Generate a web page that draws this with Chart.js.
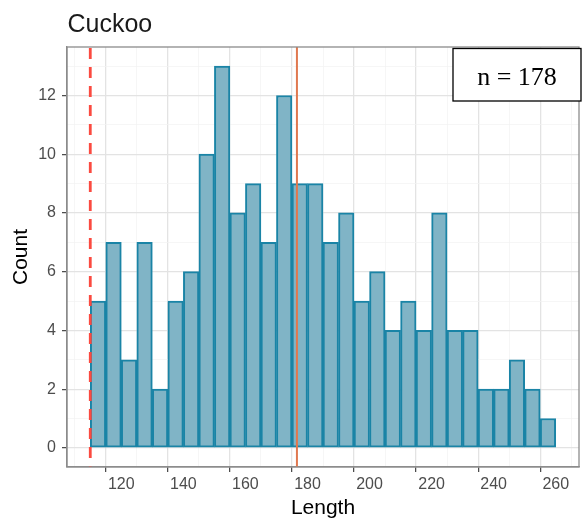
<!DOCTYPE html>
<html>
<head>
<meta charset="utf-8">
<script src="https://cdn.jsdelivr.net/npm/chart.js@4.4.1/dist/chart.umd.min.js"></script>
<style>
  html, body { margin: 0; padding: 0; background: #ffffff; }
  #wrap { width: 582px; height: 525px; }
</style>
</head>
<body>
<div id="wrap"><canvas id="c" width="582" height="525"></canvas></div>
<script>
// ---- data ----
const chartTitle = "Cuckoo";
const xTitle = "Length";
const yTitle = "Count";
const nLabel = "n = 178";
const binCenters = [112.5, 117.5, 122.5, 127.5, 132.5, 137.5, 142.5, 147.5, 152.5, 157.5,
                    162.5, 167.5, 172.5, 177.5, 182.5, 187.5, 192.5, 197.5, 202.5, 207.5,
                    212.5, 217.5, 222.5, 227.5, 232.5, 237.5, 242.5, 247.5, 252.5, 257.5];
const counts = [5, 7, 3, 7, 2, 5, 6, 10, 13, 8,
                9, 7, 12, 9, 9, 7, 8, 5, 6, 4,
                5, 4, 8, 4, 4, 2, 2, 3, 2, 1];
const dashedLineX = [110];
const solidLineX = [176.6];

const FONT = "'Liberation Sans', Arial, Helvetica, sans-serif";

const overlay = {
  id: 'overlay',
  afterDatasetsDraw(chart) {
    const ctx = chart.ctx;
    const xs = chart.scales.x;
    const a = chart.chartArea;
    ctx.save();
    // solid mean line
    ctx.strokeStyle = '#e0784f';
    ctx.lineWidth = 2;
    solidLineX.forEach(v => {
      const px = xs.getPixelForValue(v);
      ctx.beginPath(); ctx.moveTo(px, a.top); ctx.lineTo(px, a.bottom); ctx.stroke();
    });
    // dashed line
    ctx.strokeStyle = '#fb4a40';
    ctx.lineWidth = 2.8;
    ctx.setLineDash([11, 8]);
    dashedLineX.forEach(v => {
      const px = xs.getPixelForValue(v);
      ctx.beginPath(); ctx.moveTo(px, a.top + 1); ctx.lineTo(px, a.bottom); ctx.stroke();
    });
    ctx.restore();
  },
  afterDraw(chart) {
    const ctx = chart.ctx;
    const a = chart.chartArea;
    ctx.save();
    // panel border
    ctx.strokeStyle = '#8c8c8c';
    ctx.lineWidth = 1.3;
    ctx.strokeRect(a.left, a.top, a.right - a.left, a.bottom - a.top);
    // title
    ctx.fillStyle = '#1a1a1a';
    ctx.font = "25px " + FONT;
    ctx.textAlign = 'left';
    ctx.textBaseline = 'alphabetic';
    ctx.fillText(chartTitle, 67.5, 32);
    // n box
    ctx.fillStyle = '#ffffff';
    ctx.fillRect(453, 48.5, 128, 52.5);
    ctx.strokeStyle = '#000000';
    ctx.lineWidth = 1.3;
    ctx.strokeRect(453, 48.5, 128, 52.5);
    ctx.fillStyle = '#000000';
    ctx.font = "26px 'Liberation Serif', 'Times New Roman', serif";
    ctx.textAlign = 'center';
    ctx.fillText(nLabel, 517, 85);
    ctx.restore();
  }
};

new Chart(document.getElementById('c'), {
  type: 'bar',
  data: {
    datasets: [{
      data: binCenters.map((x, i) => ({ x: x, y: counts[i] })),
      backgroundColor: '#80b4c6',
      borderColor: '#1a84a6',
      borderWidth: 2,
      borderSkipped: false,
      barPercentage: 1.0,
      categoryPercentage: 1.0,
      grouped: false
    }]
  },
  options: {
    responsive: false,
    animation: false,
    devicePixelRatio: 1,
    layout: { padding: { left: 0, top: 47, right: 3, bottom: 0 } },
    plugins: { legend: { display: false }, tooltip: { enabled: false }, title: { display: false } },
    scales: {
      x: {
        type: 'linear',
        min: 102.5,
        max: 267.5,
        offset: false,
        afterFit(s) { s.height = 58; },
        ticks: {
          stepSize: 10,
          includeBounds: false,
          autoSkip: false,
          maxRotation: 0,
          minRotation: 0,
          padding: 3,
          color: '#4d4d4d',
          font: { family: FONT, size: 16 },
          callback: v => (v % 20 === 0 ? String(v) : '')
        },
        grid: {
          drawTicks: true,
          tickLength: 5,
          color: c => (c.tick && c.tick.value % 20 === 0 ? '#e3e3e3' : '#f2f2f2'),
          lineWidth: c => (c.tick && c.tick.value % 20 === 0 ? 1.3 : 0.7),
          tickColor: c => (c.tick && c.tick.value % 20 === 0 ? '#444444' : 'rgba(0,0,0,0)'),
          tickWidth: 1.2
        },
        border: { display: true, color: '#8c8c8c', width: 1.3 },
        title: {
          display: true,
          text: xTitle,
          color: '#000000',
          font: { family: FONT, size: 21 },
          padding: { top: 0, bottom: 4 }
        }
      },
      y: {
        type: 'linear',
        min: -0.65,
        max: 13.65,
        afterFit(s) { s.width = 67; },
        ticks: {
          stepSize: 1,
          includeBounds: false,
          autoSkip: false,
          padding: 6,
          color: '#4d4d4d',
          font: { family: FONT, size: 16 },
          callback: v => (Math.abs(v % 2) < 1e-9 ? String(v) : '')
        },
        grid: {
          drawTicks: true,
          tickLength: 5,
          color: c => (c.tick && Math.abs(c.tick.value % 2) < 1e-9 ? '#e3e3e3' : '#f2f2f2'),
          lineWidth: c => (c.tick && Math.abs(c.tick.value % 2) < 1e-9 ? 1.3 : 0.7),
          tickColor: c => (c.tick && Math.abs(c.tick.value % 2) < 1e-9 ? '#444444' : 'rgba(0,0,0,0)'),
          tickWidth: 1.2
        },
        border: { display: true, color: '#8c8c8c', width: 1.3 },
        title: {
          display: true,
          text: yTitle,
          color: '#000000',
          font: { family: FONT, size: 21 },
          padding: { top: 9, bottom: 0 }
        }
      }
    }
  },
  plugins: [overlay]
});
</script>
</body>
</html>
